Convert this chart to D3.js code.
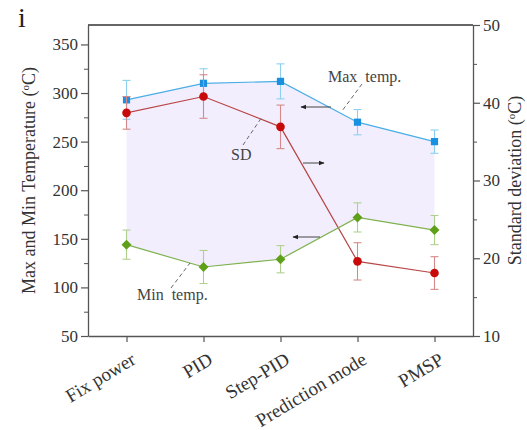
<!DOCTYPE html>
<html>
<head>
<meta charset="utf-8">
<script src="https://cdn.jsdelivr.net/npm/d3@7"></script>
<style>
  body { margin: 0; background: #fff; }
  svg text { font-family: "Liberation Serif", "Times New Roman", serif !important; }
</style>
</head>
<body>
<div id="chart"></div>
<script>
// Data
var categories = ["Fix power", "PID", "Step-PID", "Prediction mode", "PMSP"];
var maxTemp = [293, 310, 312, 270, 250];
var maxErr = [20, 15, 18, 13, 12];
var minTemp = [144, 121, 129, 172, 159];
var minErr = [15, 17, 14, 15, 15];
var sdVals = [38.7, 40.8, 36.9, 19.6, 18.1];
var sdErr = [2.1, 2.8, 2.8, 2.4, 2.1];
var leftTicks = [50, 100, 150, 200, 250, 300, 350];
var rightTicks = [10, 20, 30, 40, 50];

var W = 527, H = 430;
var margin = { top: 25, right: 54, bottom: 94, left: 88 };
var width = W - margin.left - margin.right,
  height = H - margin.top - margin.bottom;

var svg = d3.select("#chart").append("svg")
  .attr("width", W)
  .attr("height", H);

var g = svg.append("g")
  .attr("transform", "translate(" + margin.left + "," + margin.top + ")");

var x = d3.scalePoint().domain(categories).range([0, width]).padding(0.5);
var yL = d3.scaleLinear().domain([50, 370]).range([height, 0]);
var yR = d3.scaleLinear().domain([10, 50]).range([height, 0]);

var rows = categories.map(function(c, i) {
  return { c: c, max: maxTemp[i], maxE: maxErr[i], min: minTemp[i], minE: minErr[i], sd: sdVals[i], sdE: sdErr[i] };
});

// shaded band between max and min
g.append("path")
  .datum(rows)
  .attr("fill", "#f3eefd")
  .attr("d", d3.area()
    .x(function(d) { return x(d.c); })
    .y0(function(d) { return yL(d.min); })
    .y1(function(d) { return yL(d.max); }));

// Axes
var axisColor = "#555";
function styleAxis(sel) {
  sel.selectAll("path").attr("stroke", axisColor).attr("stroke-width", 1.3);
  sel.selectAll("line").attr("stroke", axisColor).attr("stroke-width", 1.2);
  sel.selectAll("text").attr("font-size", 17).attr("fill", "#333");
}

// minor ticks
g.append("g").call(d3.axisLeft(yL).tickValues(d3.range(75, 370, 50)).tickSize(4).tickFormat(""))
  .call(function(s) { s.select("path").remove(); s.selectAll("line").attr("stroke", axisColor); });
g.append("g").attr("transform", "translate(" + width + ",0)")
  .call(d3.axisRight(yR).tickValues([15, 25, 35, 45]).tickSize(4).tickFormat(""))
  .call(function(s) { s.select("path").remove(); s.selectAll("line").attr("stroke", axisColor); });

g.append("g")
  .call(d3.axisLeft(yL).tickValues(leftTicks).tickSize(7).tickSizeOuter(0).tickPadding(3))
  .call(styleAxis);

g.append("g")
  .attr("transform", "translate(" + width + ",0)")
  .call(d3.axisRight(yR).tickValues(rightTicks).tickSize(7).tickSizeOuter(0).tickPadding(3))
  .call(styleAxis);

var xAxis = g.append("g")
  .attr("transform", "translate(0," + height + ")")
  .call(d3.axisBottom(x).tickSize(6).tickSizeOuter(0))
  .call(styleAxis);
xAxis.selectAll("text")
  .attr("font-size", 19)
  .attr("text-anchor", "end")
  .attr("dy", 0)
  .attr("y", 0).attr("x", 0)
  .attr("transform", "translate(10,27) rotate(-31)");

// top border
g.append("line").attr("x1", 0).attr("x2", width).attr("y1", 0).attr("y2", 0)
  .attr("stroke", "#333").attr("stroke-width", 1.3);

// series drawing
function drawSeries(key, errKey, scale, lineColor, errColor, markColor, shape) {
  g.append("path")
    .datum(rows)
    .attr("fill", "none")
    .attr("stroke", lineColor)
    .attr("stroke-width", 1.2)
    .attr("d", d3.line().x(function(d) { return x(d.c); }).y(function(d) { return scale(d[key]); }));

  var eb = g.append("g").selectAll("g").data(rows).enter().append("g")
    .attr("stroke", errColor).attr("stroke-width", 1.1);
  eb.append("line")
    .attr("x1", function(d) { return x(d.c); }).attr("x2", function(d) { return x(d.c); })
    .attr("y1", function(d) { return scale(d[key] - d[errKey]); })
    .attr("y2", function(d) { return scale(d[key] + d[errKey]); });
  [-1, 1].forEach(function(s) {
    eb.append("line")
      .attr("x1", function(d) { return x(d.c) - 4; }).attr("x2", function(d) { return x(d.c) + 4; })
      .attr("y1", function(d) { return scale(d[key] + s * d[errKey]); })
      .attr("y2", function(d) { return scale(d[key] + s * d[errKey]); });
  });

  g.append("g").selectAll("path").data(rows).enter().append("path")
    .attr("fill", markColor)
    .attr("transform", function(d) {
      return "translate(" + x(d.c) + "," + scale(d[key]) + ") rotate(" + (shape.rot || 0) + ")";
    })
    .attr("d", d3.symbol().type(shape.type).size(shape.size));
}

drawSeries("max", "maxE", yL, "#4aaee6", "#8cd0f0", "#1a90e0", { type: d3.symbolSquare, size: 52 });
drawSeries("sd", "sdE", yR, "#b84646", "#d48a8a", "#c80a0a", { type: d3.symbolCircle, size: 58 });
drawSeries("min", "minE", yL, "#7eb24e", "#b0d090", "#5fa01a", { type: d3.symbolSquare, size: 50, rot: 45 });

// annotations
var ann = svg.append("g");
ann.append("defs").append("marker")
  .attr("id", "arr").attr("viewBox", "0 0 10 10").attr("refX", 9).attr("refY", 5)
  .attr("markerWidth", 6).attr("markerHeight", 6).attr("orient", "auto")
  .append("path").attr("d", "M0,1 L10,5 L0,9 Z").attr("fill", "#222");

function arrow(x1, y1, x2, y2) {
  ann.append("line").attr("x1", x1).attr("y1", y1).attr("x2", x2).attr("y2", y2)
    .attr("stroke", "#444").attr("stroke-width", 1).attr("marker-end", "url(#arr)");
}
function dash(x1, y1, x2, y2) {
  ann.append("line").attr("x1", x1).attr("y1", y1).attr("x2", x2).attr("y2", y2)
    .attr("stroke", "#666").attr("stroke-width", 1).attr("stroke-dasharray", "4,3");
}
function label(tx, ty, t) {
  ann.append("text").attr("x", tx).attr("y", ty).attr("font-size", 16).attr("fill", "#444")
    .attr("xml:space", "preserve").text(t);
}

label(328, 82, "Max  temp.");
dash(362, 84, 342, 111);
arrow(331, 107, 301, 107);

label(231, 160, "SD");
dash(243, 145, 262, 117);
arrow(303, 163, 324, 163);

label(137, 300, "Min  temp.");
dash(171, 288, 190, 263);
arrow(320, 237, 293, 237);

// axis titles
svg.append("text")
  .attr("transform", "translate(35," + (margin.top + height / 2) + ") rotate(-90)")
  .attr("text-anchor", "middle").attr("font-size", 18).attr("fill", "#333")
  .html('Max and Min Temperature (<tspan baseline-shift="super" font-size="11">o</tspan>C)');

svg.append("text")
  .attr("transform", "translate(521," + (margin.top + height / 2) + ") rotate(-90)")
  .attr("text-anchor", "middle").attr("font-size", 18).attr("fill", "#333")
  .html('Standard deviation (<tspan baseline-shift="super" font-size="11">o</tspan>C)');

svg.append("text").attr("x", 18).attr("y", 27).attr("font-size", 28).attr("fill", "#222").text("i");
</script>
</body>
</html>
